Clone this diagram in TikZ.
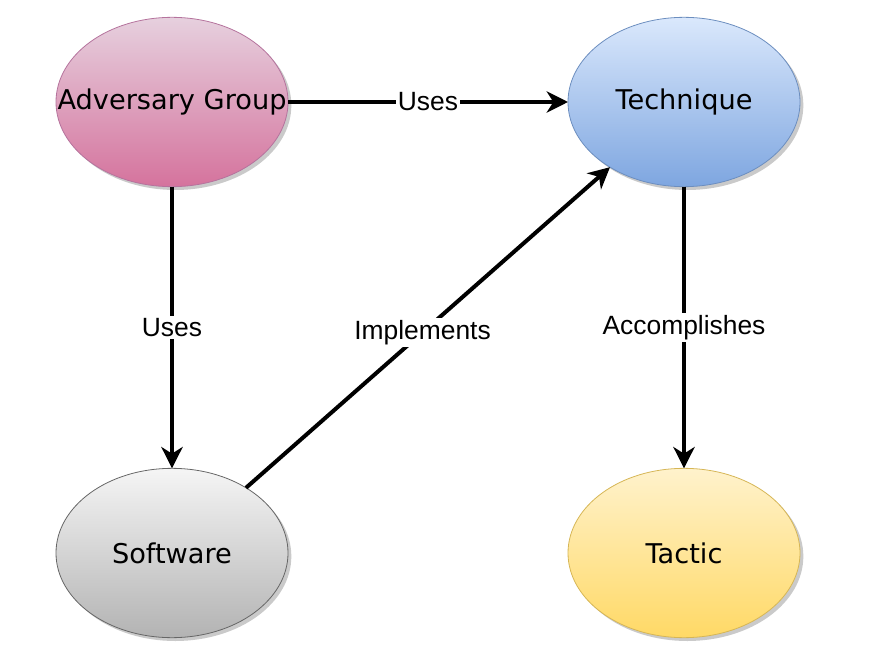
\documentclass[tikz,border=0pt]{standalone}
\usepackage{fontspec}
\setmainfont{Liberation Sans}
\newfontfamily\nodefont{DejaVu Sans}
\usetikzlibrary{shapes.geometric,arrows.meta,shadows}
\definecolor{pinkA}{HTML}{E6D0DE}
\definecolor{pinkB}{HTML}{D5739D}
\definecolor{pinkD}{HTML}{B5739D}
\definecolor{blueA}{HTML}{DAE8FC}
\definecolor{blueB}{HTML}{7EA6E0}
\definecolor{blueD}{HTML}{6C8EBF}
\definecolor{greyA}{HTML}{F5F5F5}
\definecolor{greyB}{HTML}{B3B3B3}
\definecolor{greyD}{HTML}{666666}
\definecolor{yelA}{HTML}{FFF2CC}
\definecolor{yelB}{HTML}{FFD966}
\definecolor{yelD}{HTML}{D6B656}
\newcommand{\nolab}[1]{\makebox[0pt]{#1}}
\tikzset{
  entity/.style={ellipse, minimum width=174pt, minimum height=127pt, inner sep=0pt, outer sep=0pt,
    shading=axis, line width=0.6pt,
    drop shadow={shadow xshift=2.5pt, shadow yshift=-2.5pt, opacity=0.35, fill=black!60},
    font=\nodefont\fontsize{20.4}{24}\selectfont},
  rel/.style={line width=3pt, -{Stealth[length=16pt,width=16pt,inset=5pt]}},
  rellabel/.style={fill=white, inner sep=1.5pt, font=\fontsize{19.8}{23}\selectfont}
}
\begin{document}
\begin{tikzpicture}[x=0.75pt,y=-0.75pt]
\useasboundingbox (0,0) rectangle (874,652);
\node[entity, draw=pinkD, top color=pinkA, bottom color=pinkB] (adv) at (172,102) {\nolab{Adversary Group}};
\node[entity, draw=blueD, top color=blueA, bottom color=blueB] (tech) at (684,102) {\nolab{Technique}};
\node[entity, draw=greyD, top color=greyA, bottom color=greyB] (soft) at (172,553) {\nolab{Software}};
\node[entity, draw=yelD, top color=yelA, bottom color=yelB] (tac) at (684,553) {\nolab{Tactic}};
\draw[rel] (adv.east) -- node[rellabel] (l1) {Uses} (tech.west);
\draw[rel] (adv.south) -- node[rellabel] (l2) {Uses} (soft.north);
\draw[rel] (soft) -- node[rellabel, pos=0.485] (l3) {Implements} (tech);
\draw[rel] (tech.south) -- node[rellabel] (l4) {Accomplishes} (tac.north);
\end{tikzpicture}
\end{document}
